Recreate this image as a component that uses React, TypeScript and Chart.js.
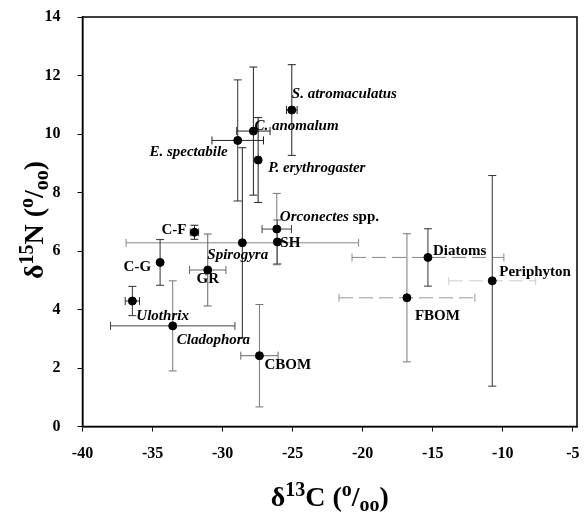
import React, { useEffect, useRef } from "react";
import { Chart, registerables } from "chart.js";

Chart.register(...registerables);

// ---- data ----
const categories = [
  "S. atromaculatus",
  "C. anomalum",
  "E. spectabile",
  "P. erythrogaster",
  "Orconectes spp.",
  "SH",
  "Spirogyra",
  "C-F",
  "C-G",
  "GR",
  "Ulothrix",
  "Cladophora",
  "CBOM",
  "Diatoms",
  "Periphyton",
  "FBOM",
];
const d13C = [-25.06, -27.8, -28.92, -27.46, -26.13, -26.09, -28.59, -32.01, -34.46, -31.06, -36.44, -33.56, -27.37, -15.34, -10.75, -16.84];
const d15N = [10.82, 10.1, 9.78, 9.11, 6.75, 6.31, 6.28, 6.64, 5.61, 5.35, 4.29, 3.44, 2.42, 5.78, 4.98, 4.4];
const errC = [0.38, 1.19, 1.84, 0, 1.05, 0, 8.3, 0.3, 0, 1.3, 0.51, 4.44, 1.33, 5.42, 3.1, 4.85];
const errN = [1.55, 2.19, 2.07, 1.45, 1.22, 0.75, 3.25, 0.24, 0.78, 1.23, 0.5, 1.54, 1.75, 0.98, 3.6, 2.19];
const italicNames = [true, true, true, true, true, false, true, false, false, false, true, true, false, false, false, false];
const xTicks = [-40, -35, -30, -25, -20, -15, -10, -5];
const yTicks = [0, 2, 4, 6, 8, 10, 12, 14];

// ---- styling of annotations (not data) ----
// label placement relative to the point: [dx, dy, align]
const labelPlacement: [number, number, "left" | "right" | "center"][] = [
  [0, -16, "left"],
  [1, -5, "left"],
  [-10, 12, "right"],
  [10, 8, "left"],
  [3, -12, "left"],
  [3, 1, "left"],
  [-35, 12, "left"],
  [-8, -2, "right"],
  [-9, 5, "right"],
  [0, 9, "center"],
  [4, 15, "left"],
  [4, 14, "left"],
  [5, 9, "left"],
  [5, -6, "left"],
  [7, -9, "left"],
  [8, 18, "left"],
];
const vColor = ["#222", "#222", "#333", "#222", "#777", "#555", "#222", "#222", "#333", "#666", "#333", "#777", "#777", "#333", "#333", "#777"];
const hColor = ["#222", "#222", "#222", "#222", "#444", "#444", "#888", "#444", "#444", "#666", "#333", "#444", "#666", "#888", "#ccc", "#999"];
const hDashed = [false, false, false, false, false, false, false, false, false, false, false, false, false, true, true, true];

const FONT = "'Liberation Serif', 'Times New Roman', serif";

type Part = { t: string; size: number; dy: number };

function drawRich(ctx: CanvasRenderingContext2D, parts: Part[], x: number, y: number) {
  let total = 0;
  const widths = parts.map((p) => {
    ctx.font = `bold ${p.size}px ${FONT}`;
    const w = ctx.measureText(p.t).width;
    total += w;
    return w;
  });
  let cx = x - total / 2;
  ctx.textAlign = "left";
  ctx.textBaseline = "alphabetic";
  parts.forEach((p, i) => {
    ctx.font = `bold ${p.size}px ${FONT}`;
    ctx.fillText(p.t, cx, y + p.dy);
    cx += widths[i];
  });
}

const errorBarPlugin = {
  id: "errorBars",
  beforeDatasetsDraw(chart: any) {
    const { ctx, scales } = chart;
    const xs = scales.x;
    const ys = scales.y;
    const cap = 4;
    ctx.save();
    ctx.lineWidth = 1;
    for (let i = 0; i < d13C.length; i++) {
      const px = xs.getPixelForValue(d13C[i]);
      const py = ys.getPixelForValue(d15N[i]);
      if (errN[i] > 0) {
        const y1 = ys.getPixelForValue(d15N[i] + errN[i]);
        const y2 = ys.getPixelForValue(d15N[i] - errN[i]);
        ctx.strokeStyle = vColor[i];
        ctx.setLineDash([]);
        ctx.beginPath();
        ctx.moveTo(px, y1);
        ctx.lineTo(px, y2);
        ctx.moveTo(px - cap, y1);
        ctx.lineTo(px + cap, y1);
        ctx.moveTo(px - cap, y2);
        ctx.lineTo(px + cap, y2);
        ctx.stroke();
      }
      if (errC[i] > 0) {
        const x1 = xs.getPixelForValue(d13C[i] - errC[i]);
        const x2 = xs.getPixelForValue(d13C[i] + errC[i]);
        ctx.strokeStyle = hColor[i];
        ctx.setLineDash(hDashed[i] ? [14, 6] : []);
        ctx.beginPath();
        ctx.moveTo(x1, py);
        ctx.lineTo(x2, py);
        ctx.stroke();
        ctx.setLineDash([]);
        ctx.beginPath();
        ctx.moveTo(x1, py - cap);
        ctx.lineTo(x1, py + cap);
        ctx.moveTo(x2, py - cap);
        ctx.lineTo(x2, py + cap);
        ctx.stroke();
      }
    }
    ctx.restore();
  },
};

const decorPlugin = {
  id: "decor",
  afterDatasetsDraw(chart: any) {
    const { ctx, scales, chartArea } = chart;
    const xs = scales.x;
    const ys = scales.y;
    ctx.save();
    // frame
    ctx.strokeStyle = "#000";
    ctx.lineWidth = 1.5;
    ctx.strokeRect(chartArea.left, chartArea.top, chartArea.right - chartArea.left, chartArea.bottom - chartArea.top);
    // point labels
    ctx.fillStyle = "#000";
    ctx.textBaseline = "middle";
    for (let i = 0; i < categories.length; i++) {
      const [dx, dy, align] = labelPlacement[i];
      const px = xs.getPixelForValue(d13C[i]) + dx;
      const py = ys.getPixelForValue(d15N[i]) + dy;
      const name = categories[i];
      if (name.endsWith(" spp.")) {
        const base = name.slice(0, -5);
        ctx.textAlign = "left";
        ctx.font = `italic bold 15px ${FONT}`;
        ctx.fillText(base, px, py);
        const w = ctx.measureText(base).width;
        ctx.font = `bold 15px ${FONT}`;
        ctx.fillText(" spp.", px + w, py);
      } else {
        ctx.textAlign = align;
        ctx.font = `${italicNames[i] ? "italic " : ""}bold 15px ${FONT}`;
        ctx.fillText(name, px, py);
      }
    }
    // x axis title
    const cxm = (chartArea.left + chartArea.right) / 2;
    drawRich(
      ctx,
      [
        { t: "δ", size: 28, dy: 0 },
        { t: "13", size: 20, dy: -10 },
        { t: "C (", size: 28, dy: 0 },
        { t: "o", size: 20, dy: -10 },
        { t: "/", size: 28, dy: 0 },
        { t: "oo", size: 20, dy: 5 },
        { t: ")", size: 28, dy: 0 },
      ],
      cxm,
      506
    );
    // y axis title
    ctx.save();
    ctx.translate(43, 220);
    ctx.rotate(-Math.PI / 2);
    drawRich(
      ctx,
      [
        { t: "δ", size: 28, dy: 0 },
        { t: "15", size: 20, dy: -10 },
        { t: "N (", size: 28, dy: 0 },
        { t: "o", size: 20, dy: -10 },
        { t: "/", size: 28, dy: 0 },
        { t: "oo", size: 20, dy: 5 },
        { t: ")", size: 28, dy: 0 },
      ],
      0,
      0
    );
    ctx.restore();
    ctx.restore();
  },
};

export default function App() {
  const ref = useRef<HTMLCanvasElement | null>(null);
  useEffect(() => {
    if (!ref.current) return;
    const tickFont = { family: FONT, size: 16, weight: "bold" as const };
    const chart = new Chart(ref.current, {
      type: "scatter",
      data: {
        datasets: [
          {
            data: d13C.map((x, i) => ({ x, y: d15N[i] })),
            backgroundColor: "#000",
            borderColor: "#000",
            pointRadius: 4,
            pointHoverRadius: 4,
          },
        ],
      },
      options: {
        animation: false,
        responsive: false,
        events: [],
        layout: { padding: { top: 17, right: 10, left: 0, bottom: 0 } },
        plugins: { legend: { display: false }, tooltip: { enabled: false } },
        scales: {
          x: {
            type: "linear",
            min: -40,
            max: -4.7,
            afterBuildTicks: (scale: any) => {
              scale.ticks = xTicks.map((v) => ({ value: v }));
            },
            afterFit: (scale: any) => {
              scale.height = 88.5;
              scale.paddingLeft = 0;
              scale.paddingRight = 0;
            },
            ticks: { font: tickFont, color: "#000", padding: 13 },
            grid: { display: true, drawOnChartArea: false, drawTicks: true, tickLength: 5, color: "#000" },
            border: { display: true, color: "#000", width: 1.5 },
          },
          y: {
            type: "linear",
            min: 0,
            max: 14,
            afterBuildTicks: (scale: any) => {
              scale.ticks = yTicks.map((v) => ({ value: v }));
            },
            afterFit: (scale: any) => {
              scale.width = 82.5;
              scale.paddingTop = 0;
              scale.paddingBottom = 0;
            },
            ticks: { font: tickFont, color: "#000", padding: 17 },
            grid: { display: true, drawOnChartArea: false, drawTicks: true, tickLength: 5, color: "#000" },
            border: { display: true, color: "#000", width: 1.5 },
          },
        },
      },
      plugins: [errorBarPlugin, decorPlugin],
    });
    return () => chart.destroy();
  }, []);
  return (
    <div style={{ position: "absolute", left: 0, top: 0, width: 587, height: 515, background: "#fff" }}>
      <canvas ref={ref} width={587} height={515} style={{ display: "block", width: 587, height: 515 }} />
    </div>
  );
}
